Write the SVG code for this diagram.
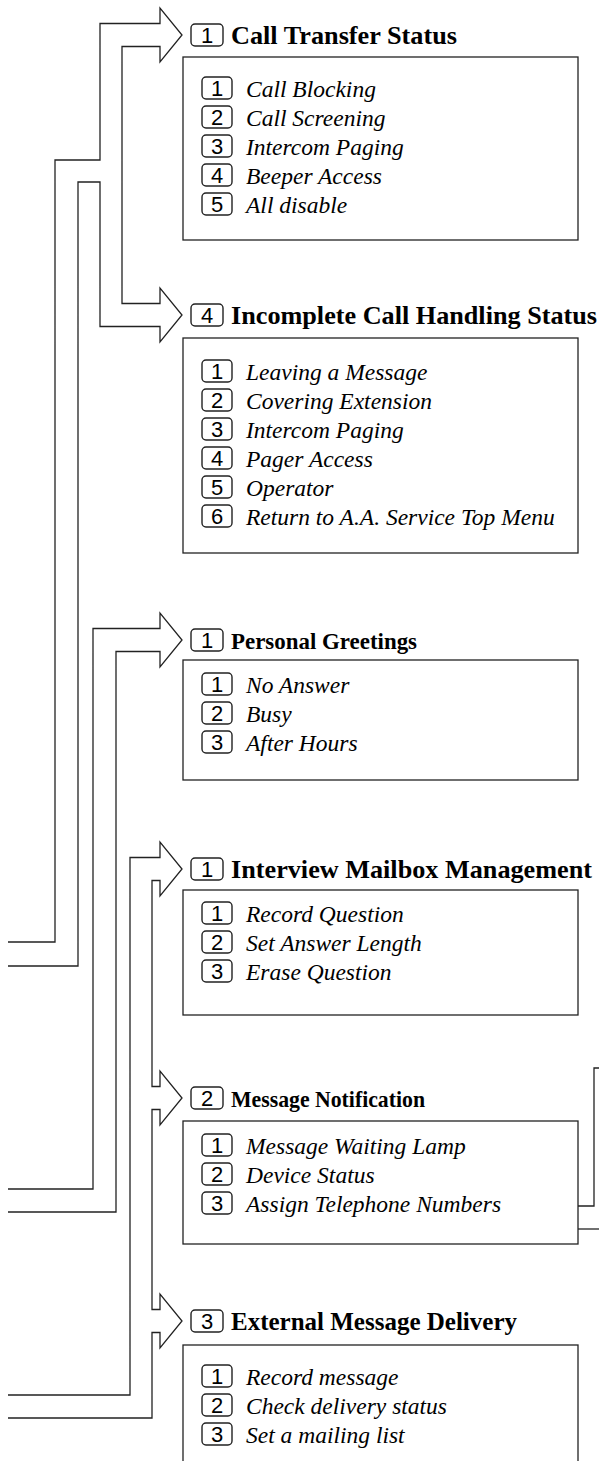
<svg xmlns="http://www.w3.org/2000/svg" width="599" height="1461" viewBox="0 0 599 1461">
<style>
.ln{fill:none;stroke:#222;stroke-width:1.3;stroke-linejoin:miter}
.box{fill:#fff;stroke:#222;stroke-width:1.3}
.bdg{fill:#fff;stroke:#222;stroke-width:1.4}
.num{font-family:"Liberation Sans",Arial,sans-serif;font-size:22px;fill:#000;text-anchor:middle}
.hnum{font-family:"Liberation Sans",Arial,sans-serif;font-size:22px;fill:#000;text-anchor:middle}
.hd{font-family:"Liberation Serif","Times New Roman",serif;font-size:25px;font-weight:bold;fill:#000}
.hs{font-size:24px}
.it{font-family:"Liberation Serif","Times New Roman",serif;font-size:23.5px;font-style:italic;fill:#000}
</style>
<rect width="599" height="1461" fill="#fff"/>
<g id="connectors">
<path class="ln" d="M8,942 H55 V160 H100 V23.5 H160 V8 L182,35 L160,62 V46.5 H122 V303.5 H160 V288 L182,315 L160,342 V326.5 H100 V182 H78 V966 H8"/>
<path class="ln" d="M8,1189 H93 V628.5 H160 V613 L182,640 L160,667 V651.5 H116 V1212 H8"/>
<path class="ln" d="M8,1395 H130 V857.5 H160 V842 L182,869 L160,896 V880.5 H152 V1086.5 H160 V1071 L182,1098 L160,1125 V1109.5 H152 V1309.5 H160 V1294 L182,1321 L160,1348 V1332.5 H152 V1418 H8"/>
<path class="ln" d="M599,1068 H594 V1206 H578"/>
<path class="ln" d="M578,1229 H599"/>
</g>
<g id="call-transfer-status">
<rect class="bdg" x="191" y="24" width="32" height="22" rx="4"/><text class="hnum" x="207" y="43">1</text>
<text class="hd" x="231" y="44" textLength="226" lengthAdjust="spacingAndGlyphs">Call Transfer Status</text>
<rect class="box" x="183" y="57" width="395" height="183"/>
<rect class="bdg" x="202" y="77" width="30" height="22" rx="4"/><text class="num" x="217" y="96">1</text><text class="it" x="246" y="96.5">Call Blocking</text>
<rect class="bdg" x="202" y="106" width="30" height="22" rx="4"/><text class="num" x="217" y="125">2</text><text class="it" x="246" y="125.5">Call Screening</text>
<rect class="bdg" x="202" y="135" width="30" height="22" rx="4"/><text class="num" x="217" y="154">3</text><text class="it" x="246" y="154.5">Intercom Paging</text>
<rect class="bdg" x="202" y="164" width="30" height="22" rx="4"/><text class="num" x="217" y="183">4</text><text class="it" x="246" y="183.5">Beeper Access</text>
<rect class="bdg" x="202" y="193" width="30" height="22" rx="4"/><text class="num" x="217" y="212">5</text><text class="it" x="246" y="212.5">All disable</text>
</g>
<g id="incomplete-call-handling-status">
<rect class="bdg" x="191" y="304" width="32" height="22" rx="4"/><text class="hnum" x="207" y="323">4</text>
<text class="hd" x="231" y="324" textLength="366" lengthAdjust="spacingAndGlyphs">Incomplete Call Handling Status</text>
<rect class="box" x="183" y="338" width="395" height="215"/>
<rect class="bdg" x="202" y="360" width="30" height="22" rx="4"/><text class="num" x="217" y="379">1</text><text class="it" x="246" y="379.5">Leaving a Message</text>
<rect class="bdg" x="202" y="389" width="30" height="22" rx="4"/><text class="num" x="217" y="408">2</text><text class="it" x="246" y="408.5">Covering Extension</text>
<rect class="bdg" x="202" y="418" width="30" height="22" rx="4"/><text class="num" x="217" y="437">3</text><text class="it" x="246" y="437.5">Intercom Paging</text>
<rect class="bdg" x="202" y="447" width="30" height="22" rx="4"/><text class="num" x="217" y="466">4</text><text class="it" x="246" y="466.5">Pager Access</text>
<rect class="bdg" x="202" y="476" width="30" height="22" rx="4"/><text class="num" x="217" y="495">5</text><text class="it" x="246" y="495.5">Operator</text>
<rect class="bdg" x="202" y="505" width="30" height="22" rx="4"/><text class="num" x="217" y="524">6</text><text class="it" x="246" y="524.5">Return to A.A. Service Top Menu</text>
</g>
<g id="personal-greetings">
<rect class="bdg" x="191" y="629" width="32" height="22" rx="4"/><text class="hnum" x="207" y="648">1</text>
<text class="hd hs" x="231" y="648.5" textLength="186" lengthAdjust="spacingAndGlyphs">Personal Greetings</text>
<rect class="box" x="183" y="660" width="395" height="120"/>
<rect class="bdg" x="202" y="673" width="30" height="22" rx="4"/><text class="num" x="217" y="692">1</text><text class="it" x="246" y="692.5">No Answer</text>
<rect class="bdg" x="202" y="702" width="30" height="22" rx="4"/><text class="num" x="217" y="721">2</text><text class="it" x="246" y="721.5">Busy</text>
<rect class="bdg" x="202" y="731" width="30" height="22" rx="4"/><text class="num" x="217" y="750">3</text><text class="it" x="246" y="750.5">After Hours</text>
</g>
<g id="interview-mailbox-management">
<rect class="bdg" x="191" y="858" width="32" height="22" rx="4"/><text class="hnum" x="207" y="877">1</text>
<text class="hd" x="231" y="878" textLength="361" lengthAdjust="spacingAndGlyphs">Interview Mailbox Management</text>
<rect class="box" x="183" y="890" width="395" height="125"/>
<rect class="bdg" x="202" y="902" width="30" height="22" rx="4"/><text class="num" x="217" y="921">1</text><text class="it" x="246" y="921.5">Record Question</text>
<rect class="bdg" x="202" y="931" width="30" height="22" rx="4"/><text class="num" x="217" y="950">2</text><text class="it" x="246" y="950.5">Set Answer Length</text>
<rect class="bdg" x="202" y="960" width="30" height="22" rx="4"/><text class="num" x="217" y="979">3</text><text class="it" x="246" y="979.5">Erase Question</text>
</g>
<g id="message-notification">
<rect class="bdg" x="191" y="1087" width="32" height="22" rx="4"/><text class="hnum" x="207" y="1106">2</text>
<text class="hd hs" x="231" y="1106.5" textLength="194" lengthAdjust="spacingAndGlyphs">Message Notification</text>
<rect class="box" x="183" y="1121" width="395" height="123"/>
<rect class="bdg" x="202" y="1134" width="30" height="22" rx="4"/><text class="num" x="217" y="1153">1</text><text class="it" x="246" y="1153.5">Message Waiting Lamp</text>
<rect class="bdg" x="202" y="1163" width="30" height="22" rx="4"/><text class="num" x="217" y="1182">2</text><text class="it" x="246" y="1182.5">Device Status</text>
<rect class="bdg" x="202" y="1192" width="30" height="22" rx="4"/><text class="num" x="217" y="1211">3</text><text class="it" x="246" y="1211.5">Assign Telephone Numbers</text>
</g>
<g id="external-message-delivery">
<rect class="bdg" x="191" y="1310" width="32" height="22" rx="4"/><text class="hnum" x="207" y="1329">3</text>
<text class="hd" x="231" y="1330" textLength="286" lengthAdjust="spacingAndGlyphs">External Message Delivery</text>
<rect class="box" x="183" y="1345" width="395" height="130"/>
<rect class="bdg" x="202" y="1365" width="30" height="22" rx="4"/><text class="num" x="217" y="1384">1</text><text class="it" x="246" y="1384.5">Record message</text>
<rect class="bdg" x="202" y="1394" width="30" height="22" rx="4"/><text class="num" x="217" y="1413">2</text><text class="it" x="246" y="1413.5">Check delivery status</text>
<rect class="bdg" x="202" y="1423" width="30" height="22" rx="4"/><text class="num" x="217" y="1442">3</text><text class="it" x="246" y="1442.5">Set a mailing list</text>
</g>
</svg>
